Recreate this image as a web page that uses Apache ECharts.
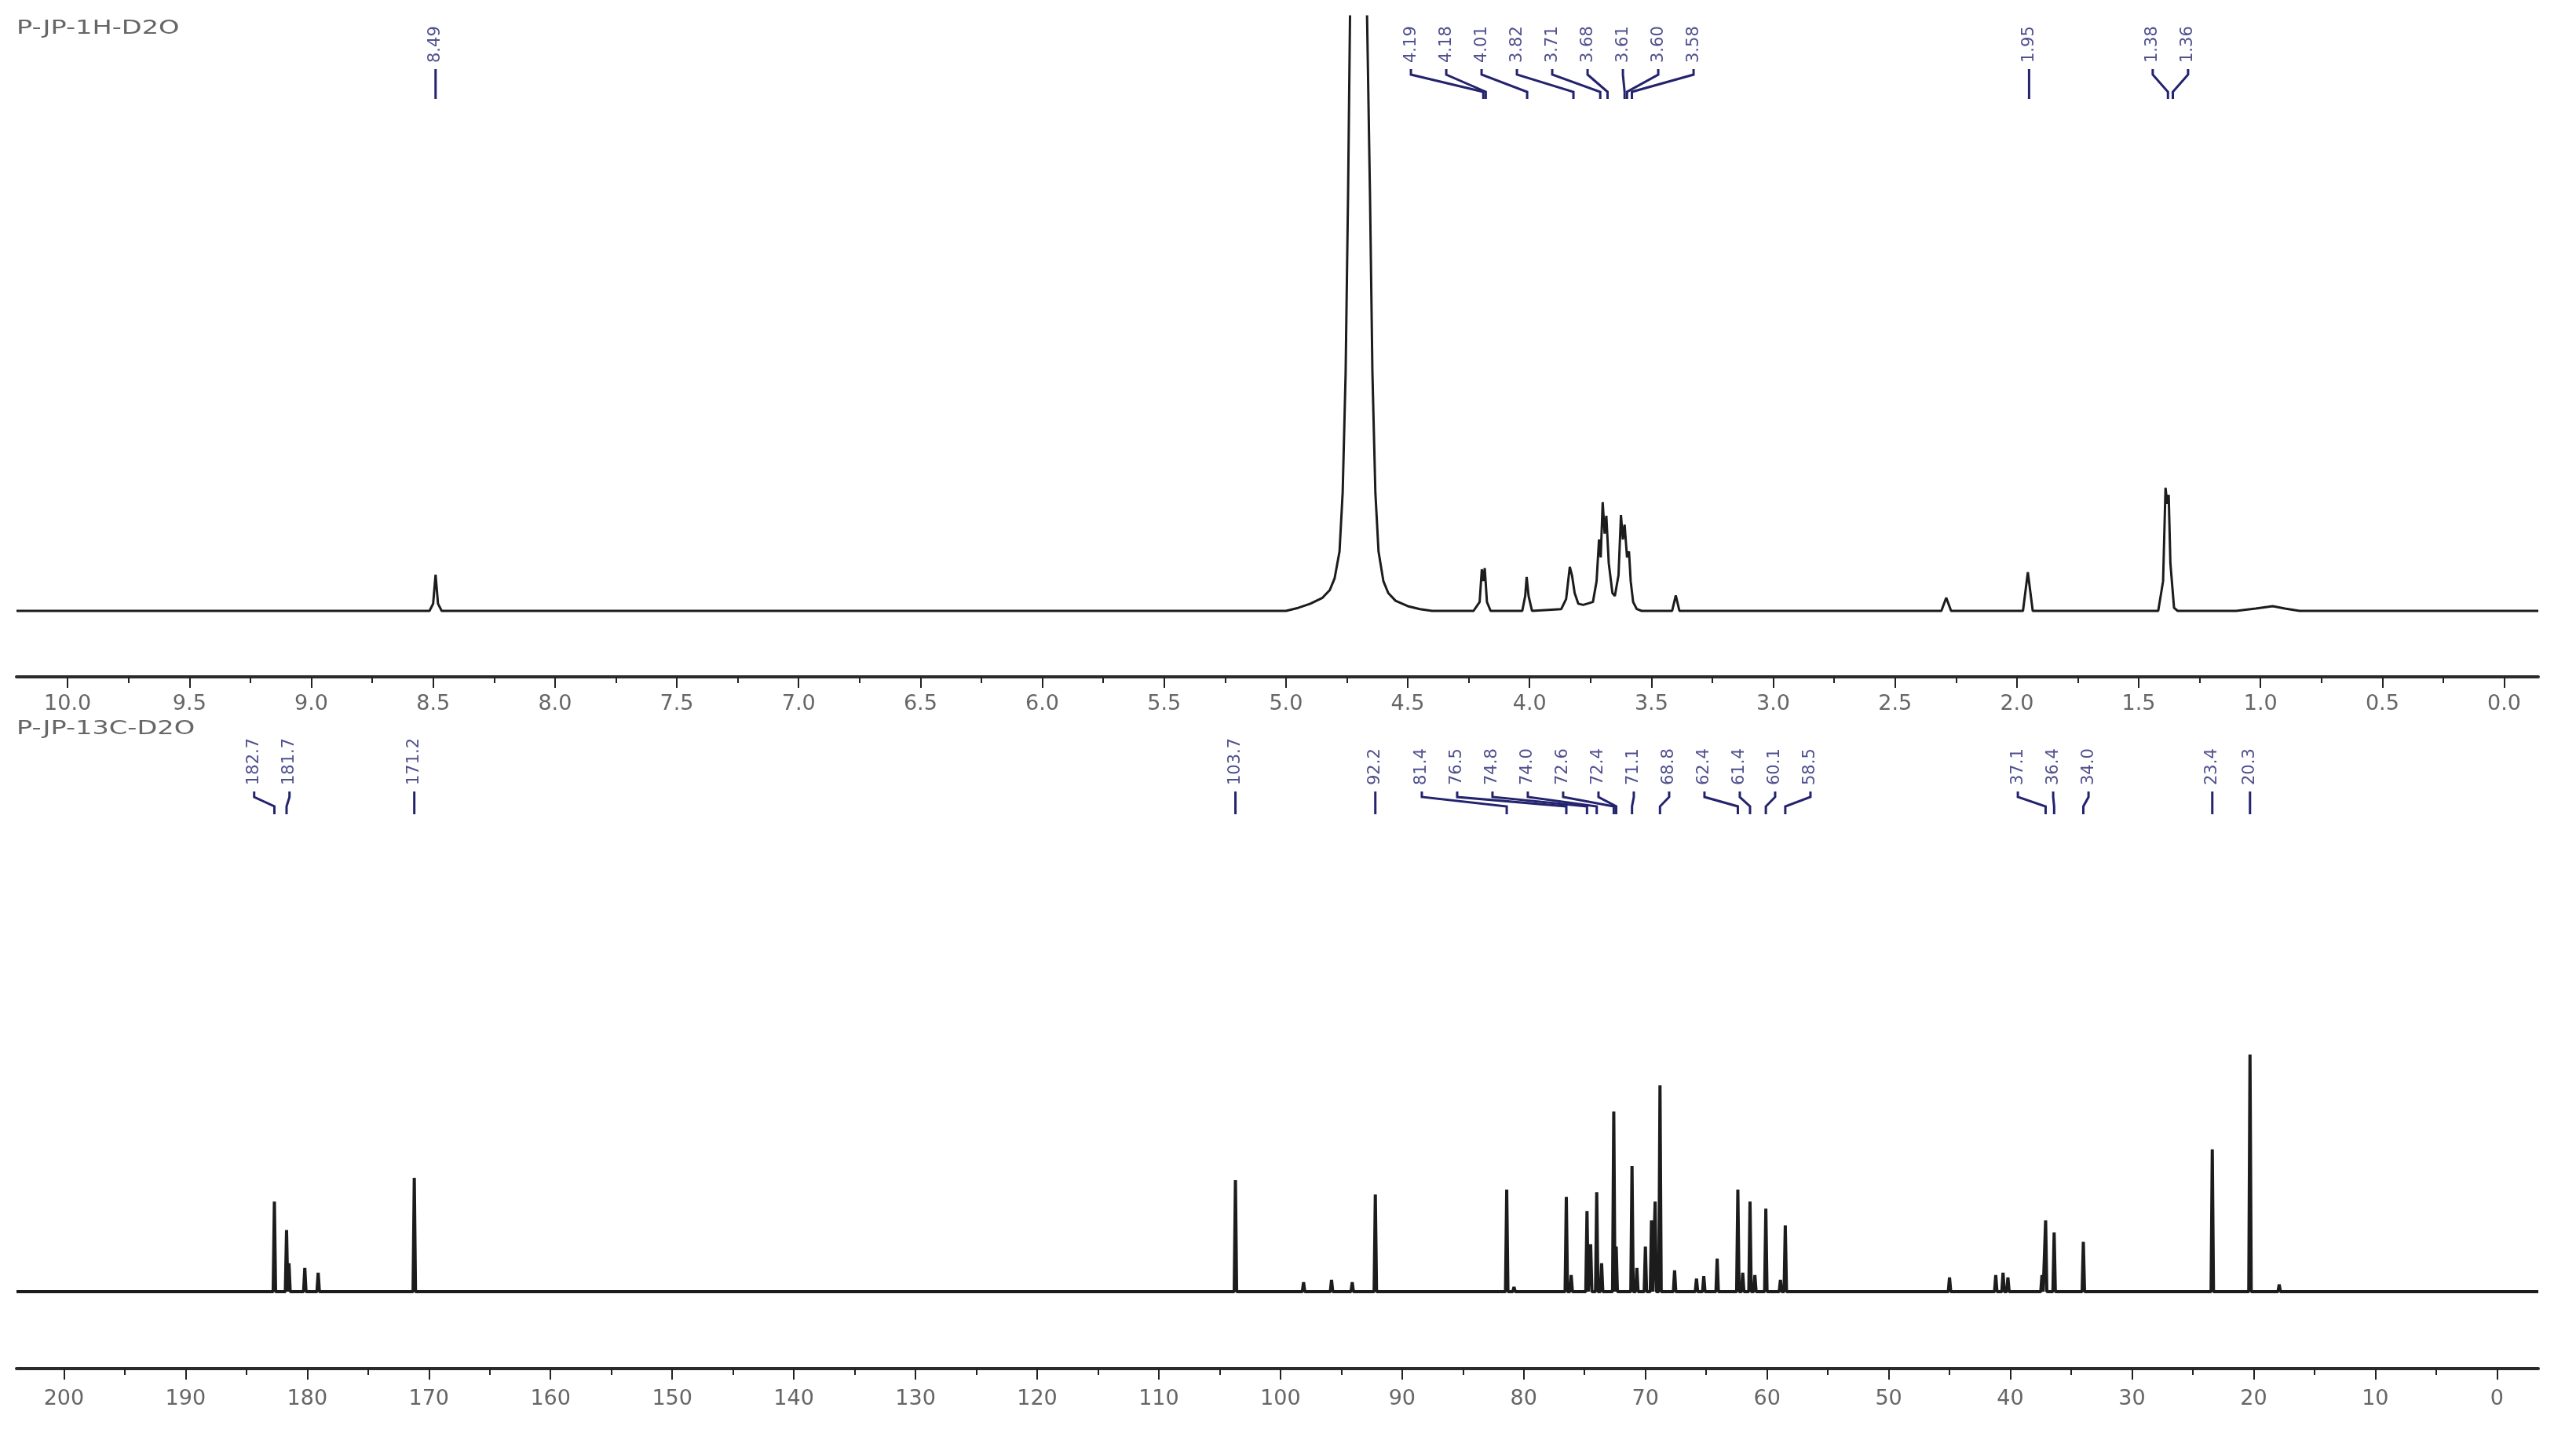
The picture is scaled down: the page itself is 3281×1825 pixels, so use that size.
<!DOCTYPE html>
<html>
<head>
<meta charset="utf-8">
<script src="https://cdn.jsdelivr.net/npm/echarts@6/dist/echarts.min.js"></script>
<style>
  html, body { margin: 0; padding: 0; background: #fff; }
  #chart { width: 3281px; height: 1825px; }
</style>
</head>
<body>
<div id="chart"></div>
<script>
// ---- 1H spectrum (ppm, intensity in % of the plot height) ----
const h1Trace = [
  [10.21, 0],
  [8.515, 0], [8.50, 1.2], [8.49, 6.1], [8.48, 1.2], [8.465, 0],
  [5.00, 0], [4.95, 0.5], [4.90, 1.2], [4.85, 2.2], [4.82, 3.5], [4.80, 5.5], [4.78, 10],
  [4.767, 20], [4.755, 40], [4.745, 70], [4.737, 100], [4.72, 250], [4.70, 400],
  [4.68, 250], [4.667, 100], [4.655, 70], [4.645, 40], [4.633, 20], [4.62, 10],
  [4.60, 5], [4.58, 3], [4.55, 1.7], [4.50, 0.8], [4.45, 0.3], [4.40, 0],
  [4.23, 0], [4.205, 1.5], [4.196, 7.0], [4.190, 5.0], [4.184, 7.2], [4.175, 1.5], [4.16, 0],
  [4.03, 0], [4.018, 2.5], [4.012, 5.7], [4.004, 2.5], [3.99, 0],
  [3.87, 0.3], [3.85, 2], [3.835, 7.4], [3.826, 6.0], [3.815, 3], [3.80, 1.2], [3.78, 1.0],
  [3.74, 1.5], [3.725, 5], [3.715, 12], [3.708, 9], [3.70, 18.3], [3.692, 13], [3.685, 16],
  [3.675, 8], [3.66, 3], [3.65, 2.5], [3.635, 6], [3.625, 16.1], [3.617, 12], [3.61, 14.5],
  [3.60, 9], [3.592, 10], [3.585, 5], [3.575, 1.5], [3.56, 0.3], [3.54, 0],
  [3.415, 0], [3.40, 2.6], [3.385, 0],
  [2.31, 0], [2.29, 2.2], [2.27, 0],
  [1.975, 0], [1.955, 6.5], [1.935, 0],
  [1.42, 0], [1.40, 5], [1.39, 20.7], [1.383, 18], [1.377, 19.5], [1.37, 8], [1.355, 0.5], [1.34, 0],
  [1.10, 0], [1.02, 0.4], [0.95, 0.8], [0.90, 0.4], [0.84, 0],
  [-0.14, 0]
];
const h1Labels = [8.49, 4.19, 4.18, 4.01, 3.82, 3.71, 3.68, 3.61, 3.60, 3.58, 1.95, 1.38, 1.36];
const h1Ticks = [0, 0.5, 1, 1.5, 2, 2.5, 3, 3.5, 4, 4.5, 5, 5.5, 6, 6.5, 7, 7.5, 8, 8.5, 9, 9.5, 10];

// ---- 13C spectrum (ppm, peak height, 20.3 ppm = 100) ----
const c13Peaks = [
  [182.7, 38], [181.7, 26], [181.5, 12], [180.2, 10], [179.1, 8], [171.2, 48],
  [103.7, 47], [98.1, 4], [95.8, 5], [94.1, 4], [92.2, 41],
  [81.4, 43], [80.8, 2], [76.5, 40], [76.1, 7], [74.8, 34], [74.5, 20], [74.0, 42],
  [73.6, 12], [72.6, 76], [72.4, 19], [71.1, 53], [70.7, 10], [70.0, 19], [69.5, 30],
  [69.2, 38], [68.8, 87], [67.6, 9], [65.8, 5.5], [65.2, 6.6], [64.1, 14],
  [62.4, 43], [62.0, 8], [61.4, 38], [61.0, 7], [60.1, 35], [58.9, 5], [58.5, 28],
  [45.0, 6], [41.2, 7], [40.6, 8], [40.2, 6], [37.4, 7], [37.1, 30], [36.4, 25], [34.0, 21],
  [23.4, 60], [20.3, 100], [17.9, 3]
];
const c13Labels = [182.7, 181.7, 171.2, 103.7, 92.2, 81.4, 76.5, 74.8, 74.0, 72.6, 72.4,
  71.1, 68.8, 62.4, 61.4, 60.1, 58.5, 37.1, 36.4, 34.0, 23.4, 20.3];
const c13Ticks = [0, 10, 20, 30, 40, 50, 60, 70, 80, 90, 100, 110, 120, 130, 140, 150, 160, 170, 180, 190, 200];

const FONT = '"DejaVu Sans", sans-serif';
const INK = '#1c1c1c';
const LABEL_INK = '#50508f';
const LEAD_INK = '#23236e';
const LABEL_GAP = 45;

// each 13C line is drawn as a thin spike on the baseline
const SPIKE = 0.1;
const c13Trace = [[203.9, 0]];
c13Peaks.slice().sort((a, b) => b[0] - a[0]).forEach(([ppm, h]) => {
  c13Trace.push([ppm + SPIKE, 0], [ppm, h], [ppm - SPIKE, 0]);
});
c13Trace.push([-3.4, 0]);

// spread overlapping labels, clusters centred on their peaks
function spreadLabels(texts, peaks, gap, shifts) {
  const clusters = [];
  peaks.forEach((p, i) => {
    let c = { first: i, n: 1, left: p };
    while (clusters.length) {
      const prev = clusters[clusters.length - 1];
      if (prev.left + prev.n * gap <= c.left) break;
      clusters.pop();
      const n = prev.n + c.n;
      let s = 0;
      for (let k = 0; k < n; k++) s += peaks[prev.first + k] - k * gap;
      c = { first: prev.first, n, left: s / n };
    }
    clusters.push(c);
  });
  const pos = [];
  clusters.forEach(c => {
    const shift = shifts[texts[c.first]] || 0;
    for (let k = 0; k < c.n; k++) pos[c.first + k] = c.left + k * gap + shift;
  });
  return pos;
}

function labelSeries(values, digits, xAxisIndex, yAxisIndex, band, shifts) {
  const texts = values.map(v => v.toFixed(digits));
  return {
    type: 'custom',
    xAxisIndex, yAxisIndex,
    silent: true,
    clip: false,
    z: 5,
    data: values.map((v, i) => [v, i]),
    renderItem(params, api) {
      const ctx = params.context;
      if (!ctx.pos) {
        ctx.peaks = values.map(v => api.coord([v, 0])[0]);
        ctx.pos = spreadLabels(texts, ctx.peaks, LABEL_GAP, shifts);
      }
      const i = api.value(1);
      const lx = ctx.pos[i];
      const px = ctx.peaks[i];
      const L = band.lead;
      return {
        type: 'group',
        children: [
          {
            type: 'text',
            x: lx, y: band.text,
            rotation: Math.PI / 2,
            style: {
              text: texts[i], fill: LABEL_INK, fontSize: 21, fontFamily: FONT,
              align: 'left', verticalAlign: 'middle'
            }
          },
          {
            type: 'polyline',
            shape: { points: [[lx, L[0]], [lx, L[1]], [px, L[2]], [px, L[3]]] },
            style: { stroke: LEAD_INK, lineWidth: 3, fill: 'none' }
          }
        ]
      };
    }
  };
}

function ppmAxis(grid, min, max, ticks, fmt, margin) {
  return {
    gridIndex: grid, type: 'value', inverse: true, min, max, position: 'bottom',
    axisLine: { show: true, onZero: false, lineStyle: { color: '#2b2b2b', width: 4 } },
    axisTick: { show: true, customValues: ticks, length: 14, lineStyle: { color: '#222', width: 2 } },
    axisLabel: {
      customValues: ticks, formatter: fmt, margin,
      fontSize: 27, color: '#666', fontFamily: FONT
    },
    splitLine: { show: false }
  };
}
function minorAxis(grid, min, max, ticks) {
  return {
    gridIndex: grid, type: 'value', inverse: true, min, max, position: 'bottom',
    axisLine: { show: false, onZero: false },
    axisTick: { show: true, customValues: ticks, length: 8, lineStyle: { color: '#222', width: 2 } },
    axisLabel: { show: false },
    splitLine: { show: false }
  };
}

const h1Minor = h1Ticks.slice(0, -1).map(v => v + 0.25);
const c13Minor = c13Ticks.slice(0, -1).map(v => v + 5);

const titleStyle = { fontSize: 24, fill: '#666', fontFamily: FONT, verticalAlign: 'middle' };

const chart = echarts.init(document.getElementById('chart'), null, { renderer: 'canvas' });
chart.setOption({
  animation: false,
  backgroundColor: '#fff',
  graphic: [
    { type: 'text', x: 21, y: 37, scaleX: 1.4, style: Object.assign({ text: 'P-JP-1H-D2O' }, titleStyle) },
    { type: 'text', x: 21, y: 929, scaleX: 1.4, style: Object.assign({ text: 'P-JP-13C-D2O' }, titleStyle) }
  ],
  grid: [
    { left: 21, right: 48, top: 21, height: 841 },
    { left: 21, right: 48, top: 1343, height: 400 }
  ],
  xAxis: [
    ppmAxis(0, -0.14, 10.21, h1Ticks, v => v.toFixed(1), 21),
    ppmAxis(1, -3.4, 203.9, c13Ticks, v => String(v), 25),
    minorAxis(0, -0.14, 10.21, h1Minor),
    minorAxis(1, -3.4, 203.9, c13Minor)
  ],
  yAxis: [
    { gridIndex: 0, type: 'value', min: -11.1, max: 100, show: false },
    { gridIndex: 1, type: 'value', min: -32.45, max: 100, show: false }
  ],
  series: [
    {
      type: 'line', xAxisIndex: 0, yAxisIndex: 0, data: h1Trace,
      showSymbol: false, silent: true, clip: true,
      lineStyle: { color: INK, width: 3 }
    },
    {
      type: 'line', xAxisIndex: 1, yAxisIndex: 1, data: c13Trace,
      showSymbol: false, silent: true, clip: true,
      lineStyle: { color: INK, width: 4 }
    },
    labelSeries(h1Labels, 2, 0, 0, { text: 80, lead: [88, 95, 117, 126] }, { '4.19': -27 }),
    labelSeries(c13Labels, 1, 1, 1, { text: 1000, lead: [1008, 1015, 1027, 1037] },
      { '182.7': -11, '81.4': -45, '37.1': -10 })
  ]
});
</script>
</body>
</html>
